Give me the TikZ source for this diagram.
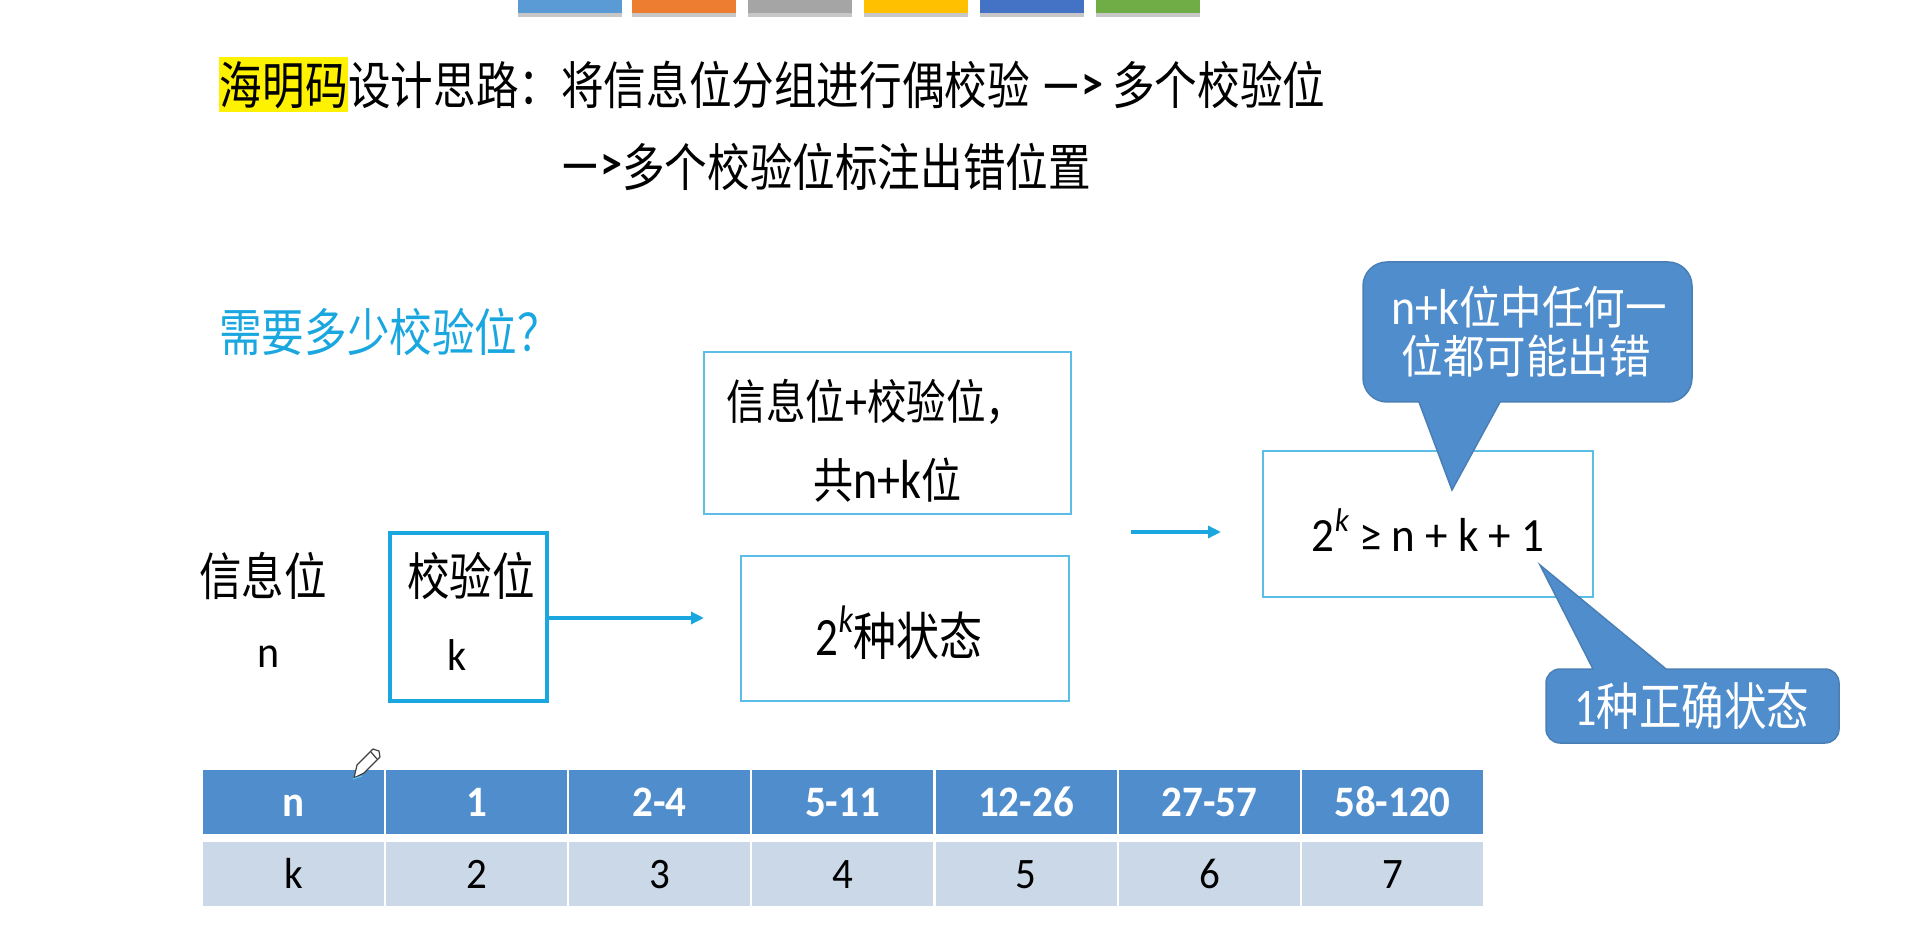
\documentclass[tikz,border=0pt]{standalone}
\usepackage{graphicx}
\usepackage{fontspec}
\setmainfont{Carlito}
\newfontfamily\cjk{Noto Sans CJK SC}
\newcommand{\sy}[1]{\scalebox{1}[1.2]{#1}}
\newcommand{\lat}[1]{\scalebox{1}[1.06]{#1}}
\newcommand{\fs}[1]{\fontsize{#1}{#1}\selectfont}
\definecolor{calloutblue}{HTML}{508DCC}
\definecolor{calloutedge}{HTML}{4A7FB5}
\definecolor{rowpale}{HTML}{CBD8E8}
\definecolor{cyanline}{HTML}{1AA7E0}
\definecolor{framecyan}{HTML}{5CBEE6}
\tikzset{
  txt/.style={inner sep=0pt,text=black},
  frame/.style={draw=framecyan,line width=2pt,fill=white,minimum width=#1,inner sep=0pt},
  flow/.style={draw=cyanline,line width=3.5pt,-{Triangle[length=13pt,width=12pt]}},
  callout/.style={fill=calloutblue,draw=calloutedge,line width=1.5pt},
  bar/.style={minimum height=13pt,minimum width=104pt,inner sep=0pt,anchor=north west},
  head/.style={fill=calloutblue,minimum width=181pt,minimum height=64pt,inner sep=0pt,text=white,font=\fs{41}\bfseries,text height=28pt,text depth=0pt},
  body/.style={fill=rowpale,minimum width=181pt,minimum height=64pt,inner sep=0pt,text=black,font=\fs{41},text height=28pt,text depth=0pt},
}
\usetikzlibrary{arrows.meta}
\begin{document}
\begin{tikzpicture}[x=1pt,y=-1pt]
\useasboundingbox (0,0) rectangle (1909,949);
% top colour bars
\foreach \xx/\cc/\nn in {518/5B9BD5/a,632/ED7D31/b,748/A5A5A5/c,864/FFC000/d,980/4472C4/e,1096/70AD47/f}{
  \definecolor{barc}{HTML}{\cc}
  \fill[black!22] (\xx,13) rectangle +(104,4);
  \node[bar,fill=barc] (bar\nn) at (\xx,0) {};
}
% title
\node[fill=yellow,minimum width=129pt,minimum height=55pt,inner sep=0pt,anchor=west,font=\fs{42.6}\cjk] (hm) at (219,85) {\sy{海明码}};
\node[txt,anchor=west,font=\fs{42.6}\cjk] (t1) at (348,85) {\sy{设计思路：将信息位分组进行偶校验}};
\node[txt,anchor=west,font=\fs{44}\bfseries] (t2) at (1041,87) {\lat{—>}};
\node[txt,anchor=west,font=\fs{42.6}\cjk] (t3) at (1112,85) {\sy{多个校验位}};
\node[txt,anchor=west,font=\fs{44}\bfseries] (t4) at (560,167) {\lat{—>}};
\node[txt,anchor=west,font=\fs{42.6}\cjk] (t5) at (622,167) {\sy{多个校验位标注出错位置}};
\node[txt,anchor=west,text=cyanline,font=\fs{42.6}\cjk] (q) at (219,332) {\sy{需要多少校验位？}};
% boxes
\node[frame=367pt,minimum height=162pt] (b1) at (887.5,433) {};
\node[txt,font=\fs{39.5}\cjk] (b1a) at (876,402) {\sy{信息位{\fs{44}\rmfamily +}校验位，}};
\node[txt,font=\fs{40}\cjk] (b1b) at (887,480) {\sy{共{\fs{46}\rmfamily n+k}位}};
\node[frame=328pt,minimum height=145pt] (b2) at (905,628.5) {};
\node[txt,font=\fs{43}\cjk] (b2t) at (899,633) {\sy{{\rmfamily\fs{45}2\raisebox{.42em}{\fs{32}\itshape k}}种状态}};
\node[draw=cyanline,line width=4pt,fill=white,minimum width=157pt,minimum height=168pt,inner sep=0pt] (kb) at (468.5,617) {};
\node[txt,font=\fs{42.5}\cjk] (l1) at (263,576) {\sy{信息位}};
\node[txt,font=\fs{42}] (l2) at (269,657) {\lat{n}};
\node[txt,font=\fs{42.5}\cjk] (l3) at (471,576) {\sy{校验位}};
\node[txt,font=\fs{42}] (l4) at (457,655) {\lat{k}};
\coordinate (a1e) at (704,618);
\draw[flow] (kb.east |- a1e) -- (a1e);
\coordinate (a2s) at (1131,532);
\coordinate (a2e) at (1221,532);
\draw[flow] (a2s) -- (a2e);
\node[frame=330pt,minimum height=146pt] (fb) at (1428,524) {};
\node[txt,font=\fs{45}] (fm) at (1428,530) {\lat{2\raisebox{.42em}{\fs{31}\itshape k} ≥ n + k + 1}};
% callouts
\path[callout] (1419,402) [sharp corners] -- (1452,490) -- (1500,402) [rounded corners=24pt] -- (1692,402) -- (1692,262) -- (1363,262) -- (1363,402) [sharp corners] -- cycle;
\node[txt,text=white,font=\fs{41.5}\cjk] (c1a) at (1524,307) {\scalebox{1}[1.1]{{\rmfamily\fs{46} n+k}位中任何一}};
\node[txt,text=white,font=\fs{41.5}\cjk] (c1b) at (1526,356) {\scalebox{1}[1.1]{位都可能出错}};
\path[callout] (1593,669) [sharp corners] -- (1540,565) -- (1666,669) [rounded corners=14pt] -- (1839,669) -- (1839,743) -- (1546,743) -- (1546,669) [sharp corners] -- cycle;
\node[txt,text=white,font=\fs{42.5}\cjk] (c2) at (1687,706) {\sy{{\rmfamily\fs{44} 1}种正确状态}};
% table
\foreach \i/\cx/\top/\bot in {0/293.5/n/k,1/476.5/1/2,2/659.5/2-4/3,3/842.5/5-11/4,4/1026/12-26/5,5/1209.5/27-57/6,6/1392.5/58-120/7}{
  \node[head] (h\i) at (\cx,802) {\lat{\top}};
  \node[body] (r\i) at (\cx,874) {\lat{\bot}};
}
\foreach \xx in {385,568,751,934.5,1118,1301}{
  \draw[white,line width=2pt] (\xx,768) -- (\xx,908);
}
% pencil cursor
\filldraw[fill=white,draw=black!75,line width=1.2pt,line join=round] (354,778) -- (357,765) -- (373,749) -- (379,751) -- (380,757) -- (364,773) -- cycle;
\draw[black!75,line width=1.2pt] (371,752) -- (377,759);
\draw[cyanline!70,line width=1.2pt] (353,779) -- (362,776);
\end{tikzpicture}
\end{document}
